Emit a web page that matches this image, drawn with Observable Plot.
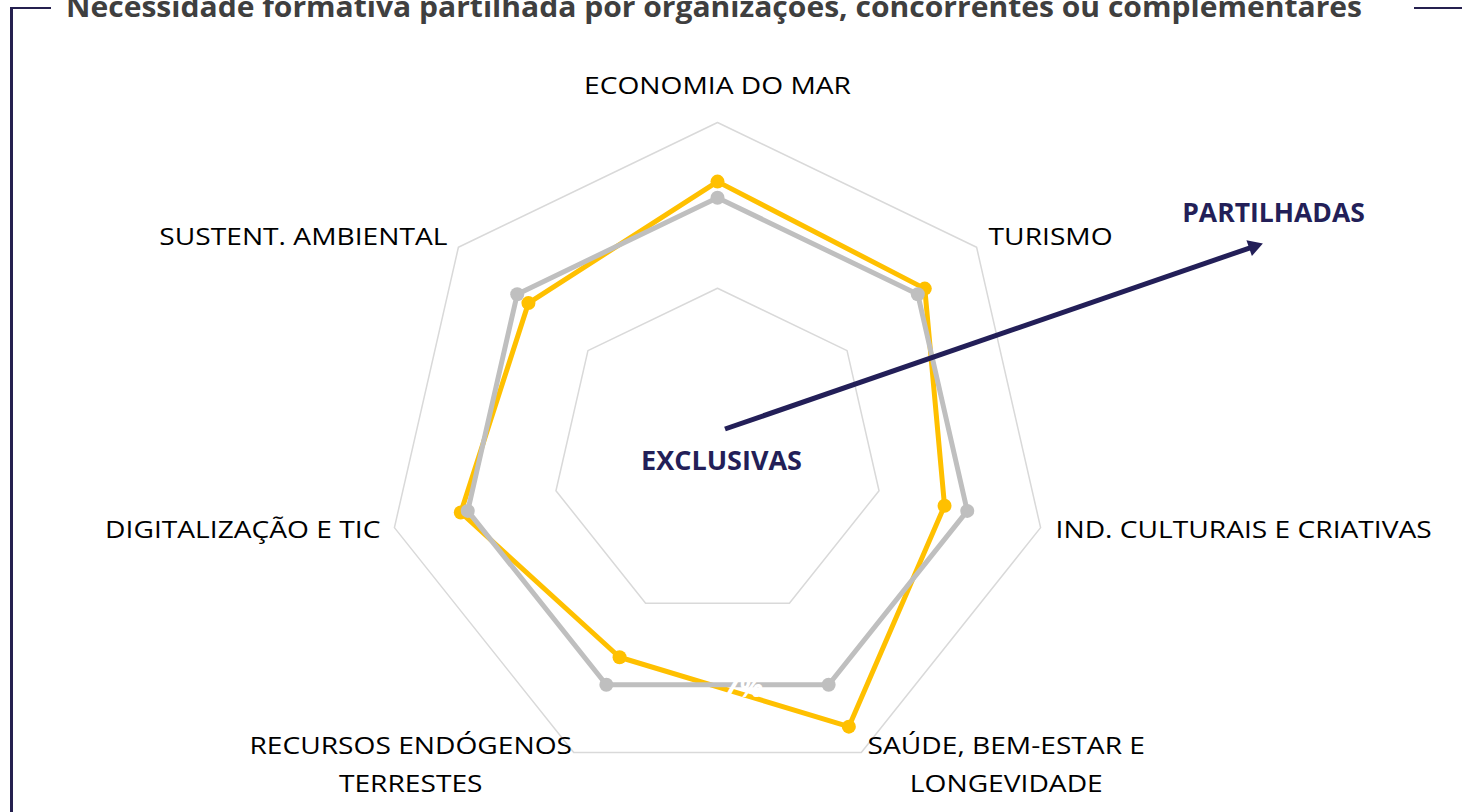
<!DOCTYPE html>
<html><head><meta charset="utf-8">
<script src="https://cdn.jsdelivr.net/npm/d3@7"></script>
<script src="https://cdn.jsdelivr.net/npm/@observablehq/plot@0.6"></script>
<style>
html,body{margin:0;padding:0;background:#fff;overflow:hidden;}
#wrap{position:relative;width:1468px;height:812px;overflow:hidden;}
#chart{position:absolute;left:0;top:0;}
#title{position:absolute;left:714px;top:-8px;font-family:"Open Sans",sans-serif;font-weight:700;font-size:28px;line-height:28px;color:#3f3f3f;white-space:nowrap;transform-origin:center center;}
.fr{position:absolute;background:#25204f;}
</style></head>
<body>
<div id="wrap">
  <div id="chart"></div>
  <div class="fr" style="left:10px;top:7px;width:2.5px;height:810px;"></div>
  <div class="fr" style="left:10px;top:7px;width:41px;height:2px;"></div>
  <div class="fr" style="left:1414px;top:7px;width:48px;height:2px;"></div>
  <div id="title">Necessidade formativa partilhada por organizações, concorrentes ou complementares</div>
</div>
<script>
// ---- data ----
const categories = [
  "ECONOMIA DO MAR",
  "TURISMO",
  "IND. CULTURAIS E CRIATIVAS",
  "SAÚDE, BEM-ESTAR E\nLONGEVIDADE",
  "RECURSOS ENDÓGENOS\nTERRESTES",
  "DIGITALIZAÇÃO E TIC",
  "SUSTENT. AMBIENTAL"
];
const organizacoes = [15.2, 14.8, 13.0, 16.9, 12.6, 14.7, 13.5]; // yellow series (%)
const media = [14.3, 14.3, 14.3, 14.3, 14.3, 14.3, 14.3];        // grey series (%)
const gridLevels = [9.25, 18.5];
const maxValue = 18.5;
const annotations = ["EXCLUSIVAS", "PARTILHADAS"];
const strayLabel = "7%";

// ---- layout (pixels) ----
const W = 1468, H = 812;
const cx = 717, cy = 453.4, Rpx = 331.4;
const k = maxValue / Rpx;                 // data units per pixel
const n = categories.length;
const ang = i => i * 2 * Math.PI / n;
const pt = (v, i) => ({x: v * Math.sin(ang(i)), y: v * Math.cos(ang(i))});
const ring = vals => { const p = vals.map((v, i) => pt(v, i)); return [...p, p[0]]; };
const px = (dxp, dyp) => ({x: dxp * k, y: -dyp * k}); // pixel offset from centre -> data

const gridData = gridLevels.flatMap(l => ring(categories.map(() => l)).map(p => ({...p, level: l})));
const yellowPts = organizacoes.map((v, i) => pt(v, i));
const greyPts = media.map((v, i) => pt(v, i));

const labelLayout = [
  {anchor: "middle", dx: 0, dy: -41},
  {anchor: "start", dx: 12, dy: -14},
  {anchor: "start", dx: 15, dy: -2},
  {anchor: "middle", dx: 145, dy: 8},
  {anchor: "middle", dx: -163, dy: 8},
  {anchor: "end", dx: -14, dy: -2},
  {anchor: "end", dx: -11, dy: -14}
];
const labelMarks = categories.map((c, i) => {
  const v = pt(maxValue, i), L = labelLayout[i];
  return Plot.text([{x: v.x + L.dx * k, y: v.y - L.dy * k, t: c}], {
    x: "x", y: "y", text: "t", textAnchor: L.anchor, fontSize: 24,
    lineHeight: 1.58, fill: "#000"
  });
});

// arrow annotation (pixel offsets from the centre)
const aStart = px(724.5 - cx, 428.5 - cy);
const aTip = px(1265 - cx, 242 - cy);
const dxA = aTip.x - aStart.x, dyA = aTip.y - aStart.y, lenA = Math.hypot(dxA, dyA);
const ux = dxA / lenA, uy = dyA / lenA;
const headR = 8;
const headC = {x: aTip.x - ux * 1.555 * headR * k, y: aTip.y - uy * 1.555 * headR * k};
const headRot = Math.atan2(ux, uy) * 180 / Math.PI;
const navy = "#231f58";

const chart = Plot.plot({
  width: W, height: H, margin: 0,
  x: {domain: [-cx * k, (W - cx) * k], axis: null},
  y: {domain: [-(H - cy) * k, cy * k], axis: null},
  style: {fontFamily: "Open Sans", background: "transparent", overflow: "visible"},
  marks: [
    Plot.line(gridData, {x: "x", y: "y", z: "level", stroke: "#d9d9d9", strokeWidth: 1.5}),
    Plot.line([...yellowPts, yellowPts[0]], {x: "x", y: "y", stroke: "#ffc000", strokeWidth: 5, strokeLinejoin: "round"}),
    Plot.dot(yellowPts, {x: "x", y: "y", r: 7, fill: "#ffc000"}),
    Plot.line([...greyPts, greyPts[0]], {x: "x", y: "y", stroke: "#bfbfbf", strokeWidth: 5, strokeLinejoin: "round"}),
    Plot.dot(greyPts, {x: "x", y: "y", r: 7, fill: "#bfbfbf"}),
    Plot.text([{...px(743 - cx, 688 - cy), t: strayLabel}], {x: "x", y: "y", text: "t", fill: "#fff", fontSize: 28, fontWeight: 700, fontStyle: "italic"}),
    ...labelMarks,
    Plot.link([{x1: aStart.x, y1: aStart.y, x2: headC.x, y2: headC.y}], {x1: "x1", y1: "y1", x2: "x2", y2: "y2", stroke: navy, strokeWidth: 5}),
    Plot.dot([headC], {x: "x", y: "y", symbol: "triangle2", r: headR, fill: navy, rotate: headRot}),
    Plot.text([{...px(721 - cx, 461 - cy), t: annotations[0]}], {x: "x", y: "y", text: "t", fill: navy, fontSize: 27, fontWeight: 700}),
    Plot.text([{...px(1273 - cx, 213 - cy), t: annotations[1]}], {x: "x", y: "y", text: "t", fill: navy, fontSize: 26.5, fontWeight: 700})
  ]
});
document.getElementById("chart").appendChild(chart);

// widen the category labels horizontally to match the reference typeface
const labelSet = new Set(categories.map(c => c.replace("\n", "")));
chart.querySelectorAll("text").forEach(el => {
  if (!labelSet.has(el.textContent)) return;
  let tr = el.getAttribute("transform");
  if (!tr) {
    const x = +el.getAttribute("x") || 0, y = +el.getAttribute("y") || 0;
    el.removeAttribute("x"); el.removeAttribute("y");
    tr = `translate(${x},${y})`;
  }
  el.setAttribute("transform", tr + " scale(1.174,1)");
});

// fit title to its measured span in the reference
const t = document.getElementById("title");
const w = t.getBoundingClientRect().width;
t.style.transform = `translateX(-50%) scaleX(${1296 / w})`;
</script>
</body></html>
